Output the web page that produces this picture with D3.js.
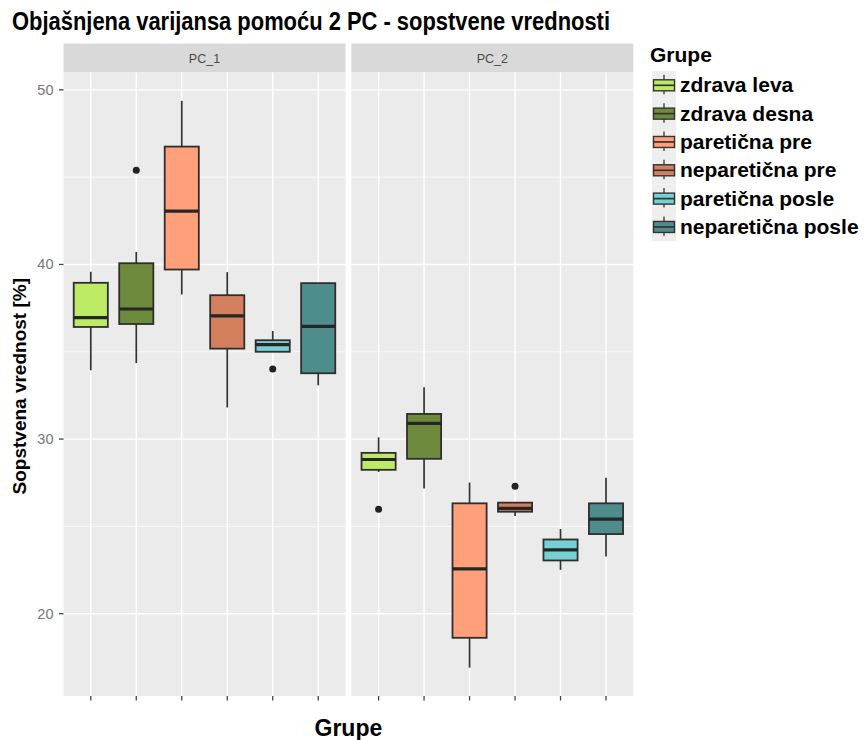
<!DOCTYPE html>
<html><head><meta charset="utf-8">
<script src="https://cdn.jsdelivr.net/npm/d3@7"></script>
<style>
body{margin:0;background:#fff;}
text{font-family:"Liberation Sans",Arial,Helvetica,sans-serif;}
</style>
</head><body>
<svg id="chart" width="865" height="740"></svg>
<script>
// Groups and their fill colours
const groups = ["zdrava leva","zdrava desna","paretična pre","neparetična pre","paretična posle","neparetična posle"];
const colors = ["#bdeb66","#6e8b3d","#ffa07a","#d4805f","#76d1d4","#4f8c8c"];
const facets = ["PC_1","PC_2"];

// Box statistics per group: [lower whisker, Q1, median, Q3, upper whisker]
const pc1Stats = [
  [33.94, 36.42, 36.96, 38.95, 39.58],
  [34.35, 36.59, 37.45, 40.07, 40.72],
  [38.28, 39.71, 43.06, 46.75, 49.37],
  [31.81, 35.18, 37.05, 38.24, 39.56],
  [35.00, 35.00, 35.41, 35.66, 36.19],
  [33.08, 33.77, 36.46, 38.93, 38.93]
];
const pc2Stats = [
  [28.12, 28.24, 28.83, 29.21, 30.10],
  [27.17, 28.87, 30.90, 31.44, 32.97],
  [16.91, 18.62, 22.57, 26.32, 27.51],
  [25.60, 25.84, 26.03, 26.36, 26.36],
  [22.51, 23.05, 23.66, 24.25, 24.85],
  [23.28, 24.56, 25.42, 26.32, 27.78]
];
const pc1Outliers = [[], [45.39], [], [], [34.01], []];
const pc2Outliers = [[25.98], [], [], [27.30], [], []];

const yTicks = [20, 30, 40, 50];
const yMinorTicks = [25, 35, 45];

const statsByFacet = [pc1Stats, pc2Stats];
const outliersByFacet = [pc1Outliers, pc2Outliers];

const svg = d3.select("#chart");

// Layout
const panelTop = 72.5, panelBottom = 696;
const stripTop = 43.5;
const panels = [[63.5, 345.5], [351.3, 633.3]];

// Shared y scale with 5% expansion of the data range
const allVals = [...pc1Stats.flat(), ...pc2Stats.flat(),
                 ...pc1Outliers.flat(), ...pc2Outliers.flat()];
const [vmin, vmax] = d3.extent(allVals);
const pad = (vmax - vmin) * 0.05;
const y = d3.scaleLinear().domain([vmin - pad, vmax + pad]).range([panelBottom, panelTop]);

// Title
svg.append("text")
  .attr("x", 12).attr("y", 30)
  .attr("font-size", 25).attr("font-weight", "bold").attr("fill", "#000")
  .attr("textLength", 598).attr("lengthAdjust", "spacingAndGlyphs")
  .text("Objašnjena varijansa pomoću 2 PC - sopstvene vrednosti");

facets.forEach((facet, fi) => {
  const [x0, x1] = panels[fi];
  const x = d3.scalePoint().domain(groups).range([x0, x1]).padding(0.6);
  const bw = x.step() * 0.75;
  const g = svg.append("g");

  // Strip
  g.append("rect").attr("x", x0).attr("y", stripTop)
    .attr("width", x1 - x0).attr("height", panelTop - stripTop).attr("fill", "#d9d9d9");
  g.append("text").attr("x", (x0 + x1) / 2).attr("y", (stripTop + panelTop) / 2 + 4.5)
    .attr("text-anchor", "middle").attr("font-size", 12.5).attr("fill", "#4a4a4a")
    .text(facet);

  // Panel background and grid
  g.append("rect").attr("x", x0).attr("y", panelTop)
    .attr("width", x1 - x0).attr("height", panelBottom - panelTop).attr("fill", "#ebebeb");
  g.selectAll(".minor").data(yMinorTicks).join("line")
    .attr("x1", x0).attr("x2", x1).attr("y1", d => y(d)).attr("y2", d => y(d))
    .attr("stroke", "#fff").attr("stroke-width", 0.7);
  g.selectAll(".major").data(yTicks).join("line")
    .attr("x1", x0).attr("x2", x1).attr("y1", d => y(d)).attr("y2", d => y(d))
    .attr("stroke", "#fff").attr("stroke-width", 1.4);
  g.selectAll(".vgrid").data(groups).join("line")
    .attr("x1", d => x(d)).attr("x2", d => x(d)).attr("y1", panelTop).attr("y2", panelBottom)
    .attr("stroke", "#fff").attr("stroke-width", 1.4);

  // x ticks
  g.selectAll(".xtick").data(groups).join("line")
    .attr("x1", d => x(d)).attr("x2", d => x(d)).attr("y1", panelBottom).attr("y2", panelBottom + 4.5)
    .attr("stroke", "#444").attr("stroke-width", 1.3);

  // Boxes
  const stats = statsByFacet[fi];
  groups.forEach((grp, gi) => {
    const [lw, q1, med, q3, uw] = stats[gi];
    const cx = x(grp);
    const bg = g.append("g");
    bg.append("line").attr("x1", cx).attr("x2", cx).attr("y1", y(uw)).attr("y2", y(q3))
      .attr("stroke", "#333").attr("stroke-width", 1.7);
    bg.append("line").attr("x1", cx).attr("x2", cx).attr("y1", y(q1)).attr("y2", y(lw))
      .attr("stroke", "#333").attr("stroke-width", 1.7);
    bg.append("rect").attr("x", cx - bw / 2).attr("y", y(q3))
      .attr("width", bw).attr("height", y(q1) - y(q3))
      .attr("fill", colors[gi]).attr("stroke", "#2e2e2e").attr("stroke-width", 1.8);
    bg.append("line").attr("x1", cx - bw / 2).attr("x2", cx + bw / 2)
      .attr("y1", y(med)).attr("y2", y(med))
      .attr("stroke", "#262626").attr("stroke-width", 3.2);
    bg.selectAll("circle").data(outliersByFacet[fi][gi]).join("circle")
      .attr("cx", cx).attr("cy", d => y(d)).attr("r", 3.5).attr("fill", "#222");
  });
});

// y axis
const yAxis = svg.append("g");
yAxis.selectAll("line").data(yTicks).join("line")
  .attr("x1", panels[0][0] - 4.5).attr("x2", panels[0][0]).attr("y1", d => y(d)).attr("y2", d => y(d))
  .attr("stroke", "#444").attr("stroke-width", 1.3);
yAxis.selectAll("text").data(yTicks).join("text")
  .attr("x", 53.5).attr("y", d => y(d) + 5).attr("text-anchor", "end")
  .attr("font-size", 14.5).attr("fill", "#777").text(d => d);

// Axis titles
svg.append("text")
  .attr("transform", `translate(26,${(panelTop + panelBottom) / 2 + 2}) rotate(-90)`)
  .attr("text-anchor", "middle").attr("font-size", 19).attr("font-weight", "bold")
  .text("Sopstvena vrednost [%]");
svg.append("text")
  .attr("x", (panels[0][0] + panels[1][1]) / 2).attr("y", 736)
  .attr("text-anchor", "middle").attr("font-size", 23).attr("font-weight", "bold")
  .text("Grupe");

// Legend
const legend = svg.append("g");
legend.append("text").attr("x", 650).attr("y", 62)
  .attr("font-size", 21).attr("font-weight", "bold").text("Grupe");
const rowH = 28.33, row0 = 85.3, keyX = 652, keyW = 24;
groups.forEach((grp, gi) => {
  const cy = row0 + gi * rowH;
  const k = legend.append("g");
  k.append("rect").attr("x", keyX).attr("y", cy - rowH / 2).attr("width", keyW).attr("height", rowH)
    .attr("fill", "#eeeeee");
  k.append("line").attr("x1", keyX + keyW / 2).attr("x2", keyX + keyW / 2)
    .attr("y1", cy - 10.5).attr("y2", cy + 9).attr("stroke", "#333").attr("stroke-width", 1.3);
  k.append("rect").attr("x", keyX + 1.5).attr("y", cy - 5.5).attr("width", keyW - 3).attr("height", 11)
    .attr("fill", colors[gi]).attr("stroke", "#333").attr("stroke-width", 1.4);
  k.append("line").attr("x1", keyX + 1.5).attr("x2", keyX + keyW - 1.5)
    .attr("y1", cy).attr("y2", cy).attr("stroke", "#333").attr("stroke-width", 1.7);
  legend.append("text").attr("x", 680).attr("y", cy + 7)
    .attr("font-size", 21).attr("font-weight", "bold").text(grp);
});
</script>
</body></html>
